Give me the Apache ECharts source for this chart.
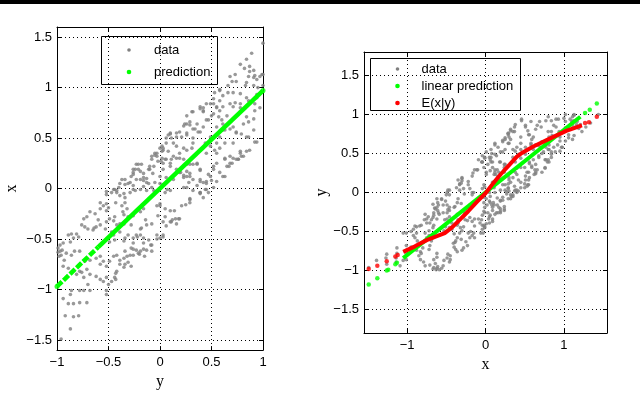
<!doctype html>
<html>
<head>
<meta charset="utf-8">
<script src="https://cdn.jsdelivr.net/npm/echarts@6.0.0/dist/echarts.min.js"></script>
<style>
	html, body { margin: 0; padding: 0; background: #fff; }
	#chart { width: 640px; height: 395px; }
</style>
</head>
<body>
<div id="chart"></div>
<script>
	// samples: [y, x]  (left panel plots x against y, right panel y against x)
	var samples = [
		[-0.42,-0.04],[-0.39,-0.07],[-0.34,-0.09],[-0.29,-0.04],[-0.24,-0.02],[-0.19,-0.01],[-0.13,-0.02],[-0.08,0.01],
		[0.07,-0.01],[0.10,-0.02],[0.26,0.01],[0.32,-0.02],[0.39,-0.04],[0.42,-0.09],[0.47,-0.04],[0.29,-0.10],
		[0.21,-0.17],[0.15,-0.30],[0.10,-0.22],[0.05,-0.20],[0.00,-0.15],[-0.03,-0.17],[0.03,-0.33],[0.11,-0.33],
		[0.18,-0.30],[-0.03,-0.46],[0.00,-0.49],[0.03,-0.46],[-0.08,-0.35],[-0.13,-0.36],[-0.19,-0.40],[-0.23,-0.46],
		[-0.16,-0.49],[-0.26,-0.54],[-0.28,-0.59],[-0.23,-0.61],[-0.34,-0.62],[-0.32,-0.67],[-0.29,-0.66],[-0.26,-0.66],
		[-0.21,-0.64],[-0.15,-0.67],[-0.28,-0.77],[-0.34,-0.75],[-0.39,-0.75],[-0.42,-0.82],[-0.44,-0.88],[-0.47,-0.92],
		[-0.50,-0.95],[-0.52,-1.01],[-0.52,-1.05],[-0.55,-0.92],[-0.58,-0.90],[-0.62,-0.87],[-0.68,-0.85],[-0.71,-0.80],
		[-0.78,-0.82],[-0.74,-0.88],[-0.70,-0.95],[-0.74,-1.01],[-0.78,-1.01],[-0.68,-1.01],[-0.86,-1.01],[-0.87,-1.05],
		[-0.94,-1.09],[-0.89,-1.14],[-0.84,-1.14],[-0.78,-1.13],[-0.71,-1.13],[-0.92,-1.26],[-0.84,-1.27],[-0.79,-1.26],
		[-0.87,-1.39],[-0.96,-1.49],
		[-0.58,-0.14],[-0.55,-0.17],[-0.52,-0.15],[-0.50,-0.19],[-0.58,-0.20],[-0.63,-0.25],[-0.68,-0.23],[-0.71,-0.28],
		[-0.74,-0.30],[-0.76,-0.36],[-0.73,-0.38],[-0.70,-0.40],[-0.65,-0.41],[-0.62,-0.38],[-0.58,-0.36],[-0.53,-0.40],
		[-0.52,-0.33],[-0.49,-0.30],[-0.45,-0.32],[-0.44,-0.28],[-0.42,-0.36],[-0.39,-0.35],[-0.36,-0.23],[-0.32,-0.20],
		[-0.37,-0.17],[-0.34,-0.14],[-0.31,-0.28],[-0.26,-0.27],[-0.19,-0.23],[-0.16,-0.20],[-0.28,-0.36],[-0.39,-0.43],
		[-0.45,-0.46],[-0.49,-0.53],[-0.44,-0.51],[-0.34,-0.49],[-0.31,-0.46],[-0.26,-0.49],[-0.19,-0.46],[-0.16,-0.54],
		[-0.11,-0.51],[-0.08,-0.56],[-0.13,-0.61],[-0.19,-0.62],[-0.08,-0.62],
		[-0.99,-0.59],[-0.97,-0.62],[-0.96,-0.66],[-0.98,-0.67],[-0.94,-0.54],[-0.89,-0.46],[-0.86,-0.45],[-0.81,-0.45],
		[-0.79,-0.48],[-0.84,-0.49],[-0.87,-0.53],[-0.91,-0.64],[-0.86,-0.66],[-0.83,-0.62],[-0.78,-0.62],[-0.94,-0.77],
		[-0.86,-0.83],[-0.81,-0.85],[-0.76,-0.83],[-0.73,-0.72],[-0.68,-0.71],[-0.62,-0.69],[-0.58,-0.67],[-0.55,-0.72],
		[-0.58,-0.75],[-0.52,-0.77],[-0.49,-0.72],[-0.45,-0.67],[-0.42,-0.66],[-0.39,-0.71],[-0.99,-0.63],[-0.97,-0.56],
		[-0.95,-0.61],[-0.93,-0.71],[-0.89,-0.79],
		[1.00,1.44],[0.89,1.34],[0.84,1.28],[0.78,1.23],[0.82,1.19],[0.87,1.21],[0.91,1.17],[0.92,1.12],
		[0.86,1.11],[0.94,1.08],[0.97,1.11],[1.00,1.13],[0.73,1.13],[0.68,1.11],[0.70,1.06],[0.74,1.06],
		[0.84,1.05],[0.83,1.02],[0.91,1.02],[0.95,1.00],[1.00,1.02],[0.58,0.97],[0.66,0.95],[0.71,0.95],
		[0.78,0.94],[0.78,0.84],[0.86,0.87],[0.94,0.90],[0.92,0.84],[0.97,0.80],[0.91,0.69],[0.86,0.66],
		[0.94,0.46],[0.87,0.38],[0.79,0.32],[0.74,0.29],[0.68,0.32],[0.70,0.25],[0.65,0.22],[0.58,0.16],
		[0.63,0.29],[0.55,0.25],[0.52,0.19],[0.45,0.07],[0.49,0.12],
		[0.39,0.81],[0.42,0.76],[0.45,0.84],[0.31,0.76],[0.26,0.72],[0.24,0.64],[0.29,0.63],[0.32,0.59],
		[0.36,0.64],[0.39,0.56],[0.42,0.61],[0.47,0.68],[0.52,0.74],[0.57,0.71],[0.60,0.68],[0.65,0.72],
		[0.71,0.81],[0.68,0.84],[0.61,0.81],[0.55,0.81],[0.52,0.84],[0.49,0.51],[0.44,0.45],[0.49,0.42],
		[0.53,0.38],[0.55,0.45],[0.58,0.51],[0.61,0.58],[0.32,0.45],[0.26,0.38],[0.21,0.51],[0.16,0.55],
		[0.10,0.55],[0.06,0.50],[0.13,0.45],[0.19,0.35],[0.13,0.32],[0.05,0.29],[0.03,0.40],[0.02,0.42],
		[-0.03,0.35],[-0.08,0.32],[-0.11,0.19],[-0.18,0.24],[-0.21,0.19],[-0.26,0.14],[-0.23,0.09],[-0.29,0.06],
		[-0.34,0.04],[-0.42,-0.02],[-0.47,-0.04],[-0.05,0.06],[0.00,0.12],[0.06,0.11],[0.16,0.19],[0.26,0.17],
		[0.23,0.11],[0.29,0.24],[0.36,0.25],[0.39,0.19],[0.42,0.06],[0.36,0.03],[0.28,0.06],[0.52,0.01],
		[0.45,-0.01],[0.45,0.35],[0.71,0.45],[0.78,0.35],[0.74,0.55],[0.84,0.51],[0.91,0.58],[0.81,0.64],
		[0.68,0.59],[-0.52,-0.06],[-0.44,-0.01],[-0.40,0.01],[-0.37,0.09],[-0.28,0.12],[-0.26,0.19],[-0.23,0.24],
		[-0.19,0.17],[-0.16,0.11],[-0.13,0.06],[-0.10,0.19],[-0.08,0.29],[-0.05,0.35],[0.00,0.40],[0.03,0.38],
		[-0.02,0.27],[-0.06,-0.02],[0.03,0.19],[0.10,0.25],
		[0.63,0.30],[0.68,0.25],[0.71,0.30],[0.76,0.29],[0.81,0.32],[0.78,0.37],[0.92,0.46],[0.86,0.51],
		[0.79,0.54],[0.74,0.56],[0.63,0.45],[0.58,0.40],[0.55,0.35],[0.52,0.22],[0.61,0.12],[0.55,0.07],
		[0.47,0.14],[0.39,-0.04],[0.29,-0.14],[0.00,-0.17],[-0.02,-0.27],[0.05,-0.28],[0.10,-0.33],[0.19,-0.30],
		[0.10,0.54],[0.19,0.56],[0.26,0.53],[0.32,0.50],[-0.06,0.22],[0.06,0.29],[0.16,0.30],[0.23,0.29],
		[0.36,0.24],[0.19,0.16],[0.26,0.12],[0.32,0.09],[0.39,0.09],[0.13,0.09],[0.03,0.04],[0.05,-0.04],
		[0.23,0.01],[0.87,1.16],[0.99,1.13],[0.91,1.10],[0.66,1.02],[0.61,0.92],[0.58,0.87],[0.55,0.80],
		[0.73,0.85],[0.78,0.80],[0.84,0.90],[0.94,0.93],[0.92,0.77],[0.84,0.71],[0.39,0.79],[0.42,0.80],
		[0.32,0.76],[0.26,0.64],[0.23,0.62],[0.50,0.72],[0.55,0.61],[0.61,0.64],[0.63,0.58],[0.71,0.61],
		[0.58,0.77],[0.49,0.84],[0.52,0.89],[0.53,0.95],[0.58,0.98],
		[0.45,0.68],[0.42,0.77],[0.29,0.66],[0.34,0.59],[0.37,0.56],[0.26,0.55],[0.16,0.51],[0.08,0.53],
		[0.11,0.50],[0.06,0.45],[0.02,0.37],[0.02,0.30],[0.03,0.25],[-0.03,0.32],[0.11,0.29],[0.19,0.30],
		[0.23,0.40],[0.31,0.40],[0.39,0.38],[0.26,0.24],[0.32,0.24],[0.39,0.18],[0.29,0.15],[0.39,0.07],
		[0.45,0.05],[0.23,0.13],[-0.21,0.24],[-0.24,0.19],[-0.26,0.16],[-0.10,0.22],[-0.16,0.15],[-0.07,0.15],
		[-0.13,0.10],[-0.19,0.09],[-0.34,0.09],[-0.31,0.05],[-0.39,0.05],[-0.45,-0.01],[-0.52,-0.03],[-0.26,-0.01],
		[-0.16,0.02],[-0.11,0.05],[0.00,0.05],
		[0.84,0.37],[0.76,0.29],[0.67,0.22],[0.63,0.12],[0.50,0.08],[0.44,-0.01],[0.39,-0.05],[0.29,-0.11],
		[0.25,-0.16],[0.14,-0.22],[0.12,-0.31],[0.16,-0.35],[0.06,-0.37],[0.03,-0.48],[-0.03,-0.50],[-0.09,-0.56],
		[-0.16,-0.60],[-0.20,-0.65],[-0.31,-0.73],[-0.35,-0.78],[-0.43,-0.84],[0.29,0.12],[0.20,0.16],[0.10,0.22],
		[0.01,0.27],[-0.05,0.33],[0.08,0.37],[0.16,0.42],[-0.16,0.08],[-0.26,0.03],[-0.35,-0.05],[-0.43,-0.14],
		[-0.52,-0.22],[-0.60,-0.31],[-0.64,-0.39],[-0.35,-0.26],[-0.35,-0.35],[-0.47,-0.43],[-0.35,-0.52],[-0.22,-0.48],
		[-0.18,-0.39],[-0.14,-0.31],[-0.26,-0.60],[-0.35,-0.69],[-0.43,-0.90],[-0.52,-0.88]
	];

	// left panel: prediction of x from y  [y, x]
	var predSolid = [[-0.6,-0.58],[1.0,0.97]];
	var predDashed = [[-1.0,-0.97],[-0.6,-0.58]];
	var predDots = [[-1.0,-0.97],[1.0,0.97]];

	// right panel: [x, y]
	var linLine = [[-1.05,-0.84],[1.21,0.97]];
	var linDots = [[-1.49,-1.18],[-1.38,-1.10],[-1.26,-1.00],[-1.24,-0.99],[-1.15,-0.92],[-1.13,-0.90],[1.27,1.02],[1.33,1.06],[1.42,1.14]];
	var condLine = [[-1.05,-0.76],[-0.9,-0.69],[-0.75,-0.61],[-0.62,-0.56],[-0.52,-0.52],[-0.42,-0.44],[-0.33,-0.35],
		[-0.22,-0.24],[-0.11,-0.12],[0.0,-0.01],[0.10,0.12],[0.20,0.24],[0.31,0.36],[0.40,0.46],[0.47,0.51],
		[0.61,0.59],[0.82,0.69],[1.03,0.79],[1.23,0.86]];
	var condDots = [[-1.49,-0.98],[-1.38,-0.94],[-1.26,-0.88],[-1.15,-0.82],[-1.12,-0.80],[1.27,0.89],[1.32,0.90],[1.42,0.97]];

	var leftLegend = ['data', 'prediction'];
	var rightLegend = ['data', 'linear prediction', 'E(x|y)'];

	var GRAY = '#808080', GREEN = '#00ff00', RED = '#ff0000';
	var sans = 'Liberation Sans, Arial, sans-serif';
	var serif = 'Liberation Serif, Times New Roman, serif';

	function minus(v) { return String(v).replace('-', '\u2212'); }

	function axis(o, main) {
		var a = {
			type: 'value',
			gridIndex: o.grid,
			position: o.position,
			min: o.min, max: o.max,
			axisLine: { show: true, onZero: false, lineStyle: { color: '#000', width: 1 } },
			axisTick: { show: true, inside: true, length: 4, lineStyle: { color: '#000' } },
			splitLine: { show: main, lineStyle: { color: '#000', width: 1, type: [1, 3] } },
			axisLabel: {
				show: main, color: '#000', fontFamily: sans, fontSize: 13, margin: o.margin || 6,
				showMinLabel: o.showEnds, showMaxLabel: o.showEnds, formatter: minus
			}
		};
		if (o.interval) a.interval = o.interval;
		if (o.splitNumber) a.splitNumber = o.splitNumber;
		if (main && o.name) {
			a.name = o.name;
			a.nameLocation = 'middle';
			a.nameGap = o.nameGap;
			a.nameTextStyle = { color: '#000', fontFamily: serif, fontSize: 16 };
		}
		return a;
	}

	var leftX = { grid: 0, min: -1, max: 1, interval: 0.5, showEnds: true, name: 'y', nameGap: 16 };
	var leftY = { grid: 0, min: -1.6, max: 1.6, splitNumber: 6, showEnds: false, name: 'x', nameGap: 37, margin: 5 };
	var rightX = { grid: 1, min: -1.55, max: 1.55, splitNumber: 3, showEnds: false, name: 'x', nameGap: 19 };
	var rightY = { grid: 1, min: -1.8, max: 1.8, splitNumber: 7, showEnds: false, name: 'y', nameGap: 34, margin: 5 };

	function withPos(o, p) { return Object.assign({}, o, { position: p }); }

	// boxed legend in the MATLAB style: frame, dot marker, label
	function legendBox(x, y, w, h, names, colors, sizes, rowTop, rowGap, dotX, textX) {
		var els = [{
			type: 'rect', shape: { x: x + 0.5, y: y + 0.5, width: w, height: h },
			style: { fill: '#fff', stroke: '#000', lineWidth: 1 }
		}];
		names.forEach(function(n, i) {
			var cy = rowTop + i * rowGap;
			els.push({ type: 'circle', shape: { cx: dotX, cy: cy, r: sizes[i] }, style: { fill: colors[i] } });
			els.push({
				type: 'text', x: textX, y: cy,
				style: { text: n, fill: '#000', font: '13px ' + sans, verticalAlign: 'middle', align: 'left' }
			});
		});
		return { type: 'group', z: 100, children: els };
	}

	var chart = echarts.init(document.getElementById('chart'), null, { renderer: 'canvas' });

	var option = {
		animation: false,
		backgroundColor: '#fff',
		graphic: [
			{ type: 'rect', left: 0, top: 0, shape: { width: 640, height: 4 }, style: { fill: '#000' } },
			legendBox(101, 36, 116, 48, leftLegend, [GRAY, GREEN], [1.8, 2.3], 50, 22, 129, 154),
			legendBox(370, 58, 150, 52, rightLegend, [GRAY, GREEN, RED], [1.8, 2.3, 2.3], 69, 17, 397.5, 421.5)
		],
		grid: [
			{ left: 57, top: 27, width: 206, height: 331 },
			{ left: 364, top: 52, width: 243, height: 281 }
		],
		xAxis: [
			axis(withPos(leftX, 'bottom'), true),
			axis(withPos(leftX, 'top'), false),
			axis(withPos(rightX, 'bottom'), true),
			axis(withPos(rightX, 'top'), false)
		],
		yAxis: [
			axis(withPos(leftY, 'left'), true),
			axis(withPos(leftY, 'right'), false),
			axis(withPos(rightY, 'left'), true),
			axis(withPos(rightY, 'right'), false)
		],
		series: [
			{
				name: 'data', type: 'scatter', xAxisIndex: 0, yAxisIndex: 0,
				symbolSize: 3.6, itemStyle: { color: GRAY },
				data: samples.map(function(p) { return [p[0], p[1]]; })
			},
			{
				name: 'prediction', type: 'scatter', xAxisIndex: 0, yAxisIndex: 0,
				symbolSize: 5, itemStyle: { color: GREEN }, data: predDots
			},
			{
				name: 'prediction line', type: 'line', xAxisIndex: 0, yAxisIndex: 0, showSymbol: false,
				lineStyle: { color: GREEN, width: 4.5 }, data: predSolid
			},
			{
				name: 'prediction dashes', type: 'line', xAxisIndex: 0, yAxisIndex: 0, showSymbol: false,
				lineStyle: { color: GREEN, width: 4.5, type: [7, 2] }, data: predDashed
			},
			{
				name: 'data', type: 'scatter', xAxisIndex: 2, yAxisIndex: 2,
				symbolSize: 3.6, itemStyle: { color: GRAY },
				data: samples.map(function(p) { return [p[1], p[0]]; })
			},
			{
				name: 'linear prediction', type: 'scatter', xAxisIndex: 2, yAxisIndex: 2,
				symbolSize: 4.5, itemStyle: { color: GREEN }, data: linDots
			},
			{
				name: 'linear prediction line', type: 'line', xAxisIndex: 2, yAxisIndex: 2, showSymbol: false,
				lineStyle: { color: GREEN, width: 4 }, data: linLine
			},
			{
				name: 'E(x|y)', type: 'scatter', xAxisIndex: 2, yAxisIndex: 2,
				symbolSize: 4.5, itemStyle: { color: RED }, data: condDots
			},
			{
				name: 'E(x|y) line', type: 'line', xAxisIndex: 2, yAxisIndex: 2, showSymbol: false,
				lineStyle: { color: RED, width: 4 }, data: condLine
			}
		]
	};
	chart.setOption(option);
</script>
</body>
</html>
